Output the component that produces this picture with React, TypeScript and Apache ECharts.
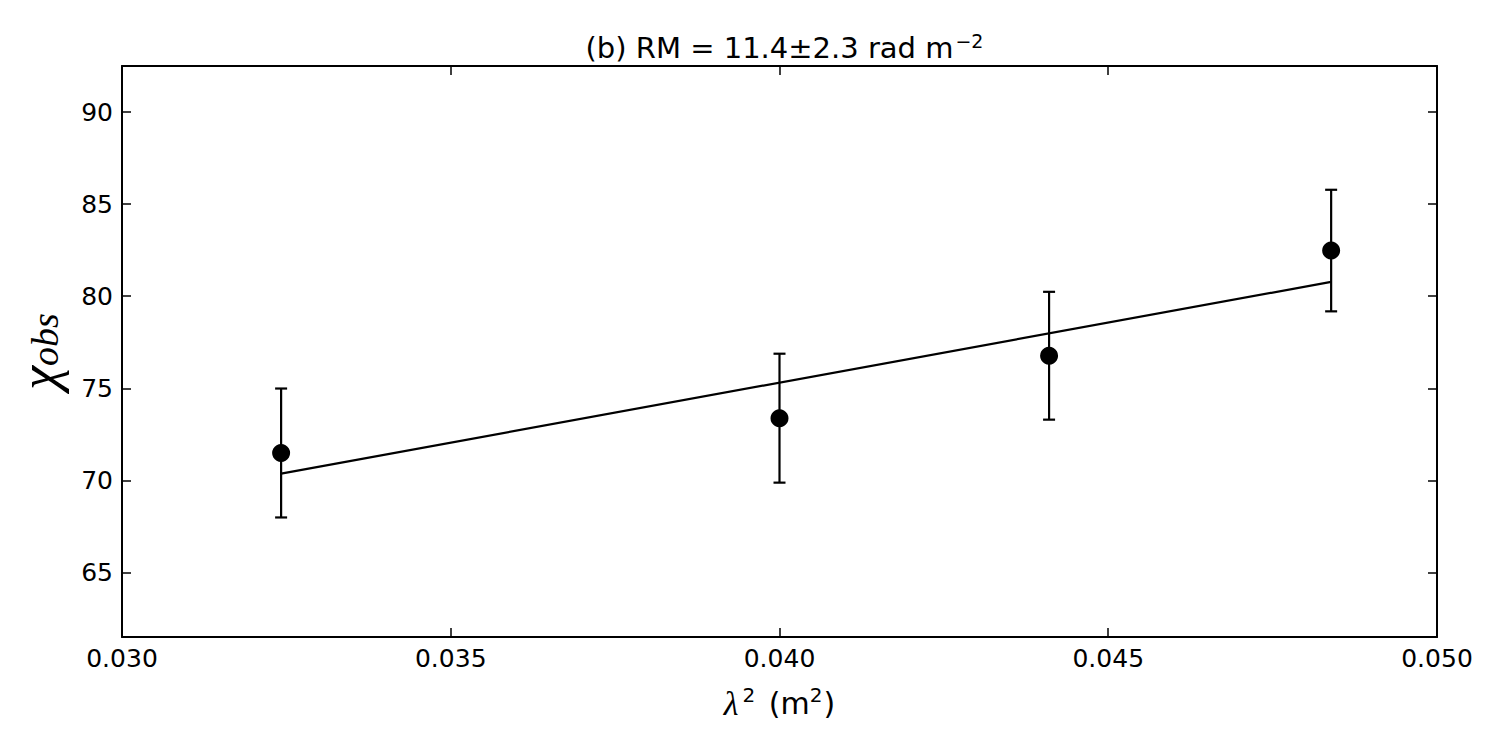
import React, { useEffect, useRef } from "react";
import * as echarts from "echarts";

const lambda2 = [0.03242, 0.04, 0.0441, 0.04839];
const chiObs = [71.49, 73.38, 76.77, 82.48];
const chiErr = [3.5, 3.5, 3.47, 3.3];
const fitX = [0.03242, 0.04839];
const fitY = [70.37, 80.78];
const yTicks = [65, 70, 75, 80, 85, 90];

const FONT = "DejaVu Sans";

export default function App() {
  const ref = useRef<HTMLDivElement>(null);
  useEffect(() => {
    if (!ref.current) return;
    const chart = echarts.init(ref.current, null, { renderer: "svg" });
    const axisLine = { show: true, onZero: false, lineStyle: { color: "#000", width: 2 } };
    const tick = { show: true, inside: true, length: 9, lineStyle: { color: "#000", width: 1.5 } };
    const errData = lambda2.map((x, i) => [x, chiObs[i] - chiErr[i], chiObs[i] + chiErr[i]]);
    chart.setOption({
      animation: false,
      backgroundColor: "#fff",
      title: {
        text: "{t|(b) RM = 11.4±2.3 rad m}{sup|−2}",
        left: 779.5,
        textAlign: "center",
        top: 26,
        textStyle: {
          fontWeight: "normal",
          rich: {
            t: { fontFamily: FONT, fontSize: 29, fontWeight: "normal", color: "#000", lineHeight: 34 },
            sup: { fontFamily: FONT, fontSize: 19, fontWeight: "normal", color: "#000", verticalAlign: "top", lineHeight: 34, padding: [0, 0, 12, 2] },
          },
        },
      },
      grid: { left: 122, right: 63, top: 66, bottom: 113, containLabel: false },
      xAxis: [
        {
          type: "value",
          min: 0.03,
          max: 0.05,
          interval: 0.005,
          position: "bottom",
          axisLine,
          axisTick: tick,
          splitLine: { show: false },
          axisLabel: {
            formatter: (v: number) => v.toFixed(3),
            fontFamily: FONT,
            fontSize: 25,
            color: "#000",
            margin: 9,
          },
          name: "{l|λ}{s|2}{t| (m}{s2|2}{t|)}",
          nameLocation: "middle",
          nameGap: 48,
          nameTextStyle: {
            rich: {
              l: { fontFamily: "Liberation Serif", fontStyle: "italic", fontSize: 34, color: "#000", lineHeight: 36 },
              t: { fontFamily: FONT, fontSize: 30, color: "#000", lineHeight: 36 },
              s: { fontFamily: FONT, fontSize: 20, color: "#000", verticalAlign: "top", lineHeight: 36, padding: [0, 4, 18, 4] },
              s2: { fontFamily: FONT, fontSize: 20, color: "#000", verticalAlign: "top", lineHeight: 36, padding: [0, 1, 18, 0] },
            },
          },
        },
        {
          type: "value",
          min: 0.03,
          max: 0.05,
          interval: 0.005,
          position: "top",
          axisLine,
          axisTick: tick,
          axisLabel: { show: false },
          splitLine: { show: false },
        },
      ],
      yAxis: [
        {
          type: "value",
          min: 61.5,
          max: 92.5,
          position: "left",
          axisLine,
          axisTick: { ...tick, customValues: yTicks },
          splitLine: { show: false },
          axisLabel: {
            customValues: yTicks,
            fontFamily: FONT,
            fontSize: 25,
            color: "#000",
            margin: 9,
          },
          name: "{c|χ}{s|obs}",
          nameLocation: "middle",
          nameGap: 58,
          nameRotate: 90,
          nameTextStyle: {
            rich: {
              c: { fontFamily: "Liberation Serif", fontStyle: "italic", fontSize: 54, color: "#000", lineHeight: 50 },
              s: { fontFamily: "Liberation Serif", fontStyle: "italic", fontSize: 38, color: "#000", lineHeight: 50, verticalAlign: "bottom", padding: [14, 0, 0, 0] },
            },
          },
        },
        {
          type: "value",
          min: 61.5,
          max: 92.5,
          position: "right",
          axisLine,
          axisTick: { ...tick, customValues: yTicks },
          axisLabel: { show: false },
          splitLine: { show: false },
        },
      ],
      series: [
        {
          type: "line",
          data: fitX.map((x, i) => [x, fitY[i]]),
          symbol: "none",
          lineStyle: { color: "#000", width: 2.2 },
          z: 2,
        },
        {
          type: "custom",
          data: errData,
          renderItem: (_params: any, api: any) => {
            const x = api.value(0);
            const lo = api.coord([x, api.value(1)]);
            const hi = api.coord([x, api.value(2)]);
            const cap = 6;
            const style = { stroke: "#000", lineWidth: 2.2 };
            return {
              type: "group",
              children: [
                { type: "line", shape: { x1: lo[0], y1: lo[1], x2: hi[0], y2: hi[1] }, style },
                { type: "line", shape: { x1: lo[0] - cap, y1: lo[1], x2: lo[0] + cap, y2: lo[1] }, style },
                { type: "line", shape: { x1: hi[0] - cap, y1: hi[1], x2: hi[0] + cap, y2: hi[1] }, style },
              ],
            };
          },
          z: 3,
        },
        {
          type: "scatter",
          data: lambda2.map((x, i) => [x, chiObs[i]]),
          symbol: "circle",
          symbolSize: 18,
          itemStyle: { color: "#000", opacity: 1 },
          z: 4,
        },
      ],
    });
    return () => chart.dispose();
  }, []);
  return <div ref={ref} style={{ width: 1500, height: 750, position: "absolute", left: 0, top: 0 }} />;
}
